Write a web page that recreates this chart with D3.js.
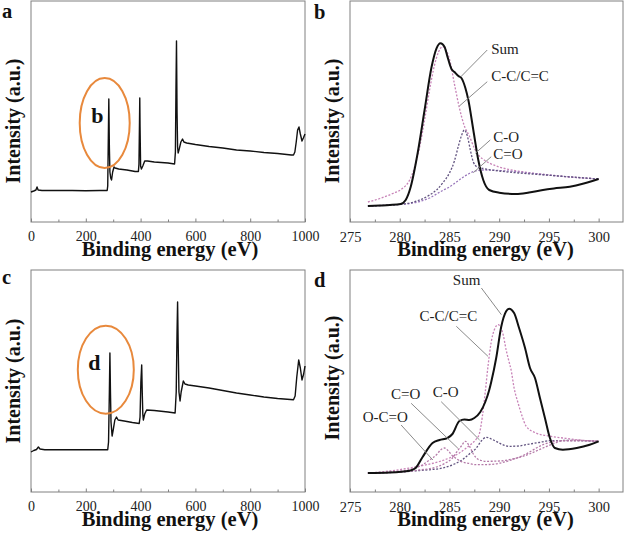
<!DOCTYPE html>
<html><head><meta charset="utf-8">
<script src="https://cdn.jsdelivr.net/npm/d3@7"></script>
<style>body{margin:0;background:#fff} svg{display:block}</style>
</head><body>
<svg id="chart" width="625" height="538"></svg>
<script>
// ---------- DATA ----------
const surveyTicks = [0, 200, 400, 600, 800, 1000];
const surveyMinor = [100, 300, 500, 700, 900];
const hrTicks = [275, 280, 285, 290, 295, 300];
const hrMinor = [277.5, 282.5, 287.5, 292.5, 297.5];

// Panel a: survey spectrum [binding energy eV, intensity a.u.]
const surveyA = [[0,30],[10,31],[18,32],[22,35],[26,32],[40,31.5],[100,31.5],[150,31.5],[200,31.2],[250,31.5],[278,31.5],[280,36],[282,80],[284,123],[286,75],[288,50],[291,44],[294,42],[298,50],[303,55],[307,54],[320,53],[350,52],[380,50.5],[392,50.5],[394,58],[396,100],[397,124],[398,95],[400,56],[403,53],[408,56],[415,61],[425,61],[450,60],[500,59],[524,58],[527,70],[529,130],[531,181],[533,110],[535,75],[537,69],[541,73],[547,80],[553,83],[558,80],[568,79],[600,77.5],[650,75.5],[700,74],[750,72],[800,71],[850,69.5],[900,68.5],[950,67],[958,67],[963,70],[968,80],[973,92],[978,95],[983,88],[989,81],[994,84],[1000,88]];

// Panel c: survey spectrum
const surveyC = [[0,40],[10,41.5],[20,42.5],[27,45],[33,43],[50,42.3],[100,42.3],[200,42.3],[280,42.3],[283,50],[286,100],[288,139],[290,100],[292,70],[296,56],[300,62],[306,72],[312,75],[318,72],[340,71],[370,69.5],[395,68.5],[398,75],[401,110],[404,127],[406,100],[408,78],[410,72],[415,78],[422,82],[450,81.5],[500,80],[526,79],[530,100],[533,160],[535,190],[537,150],[540,100],[544,91],[548,100],[556,111],[562,108],[574,107],[600,106],[650,104],[700,101.5],[750,99],[800,97],[850,95],[900,93.5],[958,92.3],[964,96],[970,115],[977,132],[983,124],[989,112],[995,118],[1000,126]];

// Panel b: C1s high resolution
const sumB = [[276.8,16],[278,16.5],[279,17],[280.1,18],[280.6,22],[281.1,35],[281.8,68.7],[282.5,112],[283.2,155],[283.7,173.7],[284.1,178.7],[284.5,175.3],[284.8,165.3],[285.2,153],[285.5,150],[285.9,146],[286.2,144],[286.6,134],[286.9,122],[287.4,92],[287.9,62],[288.4,42],[289.0,32],[290.0,29.3],[291.7,28],[293,29.5],[294.4,32],[295.5,33.5],[297.1,35.3],[298.5,38.5],[300,43]];
const ccB = [[276.8,20],[278,23.5],[279.3,28.5],[280.2,33],[281.0,42],[281.5,55],[282.0,75],[282.5,102],[283.0,132],[283.5,157],[283.9,170],[284.3,175.3],[284.7,171],[285.0,163],[285.5,138],[286.0,114],[286.5,96],[287.0,86],[287.5,74],[288.0,66],[288.5,62],[289.0,59],[290.0,55],[291.0,52.5],[292.5,50],[294.5,47.5],[296.5,45.5],[298.5,44],[300,43]];
const coB = [[276.8,16],[279,17],[281,19],[282,22],[283,27],[283.7,32],[284.4,40],[285.0,49],[285.5,61],[285.9,76],[286.2,86],[286.5,92],[286.8,86],[287.1,72],[287.4,60],[287.8,55],[288.4,53.5],[290,51],[292,49],[294,47.5],[296,46],[298,44.5],[300,43]];
const cdoB = [[276.8,16],[279,17],[281,18.5],[282,20.5],[283,24],[283.7,28],[284.4,32],[285.0,35],[285.7,40],[286.4,45],[287.0,48.5],[287.6,51],[288.2,52],[289,52],[290,51.5],[291.5,50.5],[293,49],[294.5,47.5],[296.5,45.5],[298.5,44],[300,43]];

// Panel d: C1s high resolution
const sumD = [[276.8,19],[279,19.5],[281.0,21.3],[281.6,24],[282.3,35],[283.3,49],[284.0,52],[284.8,54],[285.3,58],[286.0,71],[286.5,72.5],[287.0,72],[287.5,74],[288.1,80],[288.6,90],[289.0,102],[289.2,110],[289.7,134],[290.2,165],[290.7,180.7],[291.0,183.3],[291.5,179],[292.0,164],[292.6,144],[293.1,124],[293.6,114],[294.1,94],[294.6,74],[295.1,54],[295.6,44],[296.4,42.3],[297.8,44],[299.1,47.3],[300,50.7]];
const ccD = [[276.8,19],[279,21],[281,24],[282.7,27.3],[284,30.5],[285.0,34],[286.0,39],[286.7,44],[287.2,48],[287.7,53],[288.0,58],[288.3,75],[288.6,100],[288.9,128],[289.2,150],[289.5,162],[289.9,167.3],[290.4,157.3],[290.7,142],[291.0,130],[291.2,122],[291.5,104],[291.9,89],[292.3,76],[292.7,66],[293.7,59],[295,56],[296.4,54],[298,52],[300,50.7]];
const coD = [[276.8,19],[280,20],[282,21.5],[284.3,24],[285.5,28],[286.3,32.3],[287.0,38],[287.7,44],[288.2,51],[288.7,54.7],[289.2,53],[289.7,50.7],[290.3,47.5],[291.0,45.7],[292,46],[292.7,47.3],[294,49.5],[295.1,51.3],[297,51.5],[300,50.7]];
const cdoD = [[276.8,19],[280,20],[282,22],[283.7,25],[284.6,29],[285.3,34],[285.8,41],[286.2,46],[286.6,50.7],[287.0,46],[287.4,38],[287.7,34],[288.2,31.5],[288.7,30.7],[290,31],[291.0,32.3],[292.5,36],[294.4,44],[295.5,48.5],[296.4,51.3],[298,51.5],[300,50.7]];
const ocoD = [[276.8,19],[279,20],[281,22.5],[282.3,27.3],[283.0,32],[283.7,37.3],[284.1,42],[284.5,44],[284.9,41],[285.2,37.3],[285.6,34],[286.0,31.3],[287.0,28.5],[287.7,27.3],[289,27.5],[291.0,31.3],[292.5,37],[294.4,47.3],[295.5,50.5],[296.4,51.3],[298,51.5],[300,50.7]];

const panelLetters = ["a", "b", "c", "d"];
const xTitle = "Binding energy (eV)";
const yTitle = "Intensity (a.u.)";

// ---------- DRAWING ----------
const svg = d3.select("#chart");
const FONT = "'Liberation Serif','Times New Roman',Times,serif";
const FRAME = "#808080";
const C_PINK = "#c884b8", C_DARK = "#625480", C_PURPLE = "#9a78bc", C_MAUVE = "#b47aa8";

function makePanel(o) {
  const x = d3.scaleLinear().domain(o.xDomain).range([o.left, o.xEnd]);
  const y = d3.scaleLinear().domain([0, 220]).range([o.bottom, o.bottom - 220]);
  const g = svg.append("g");
  g.append("rect").attr("x", o.left).attr("y", o.top)
    .attr("width", o.right - o.left).attr("height", o.bottom - o.top)
    .attr("fill", "none").attr("stroke", FRAME).attr("stroke-width", 1);
  const ax = g.append("g").attr("transform", `translate(0,${o.bottom})`)
    .call(d3.axisBottom(x).tickValues(o.ticks).tickSize(-3.5).tickPadding(9.5).tickFormat(d3.format("d")));
  ax.select(".domain").remove();
  ax.selectAll("line").attr("stroke", FRAME);
  ax.selectAll("text").attr("font-family", FONT).attr("font-size", o.tickFont).attr("fill", "#222");
  const mx = g.append("g").attr("transform", `translate(0,${o.bottom})`)
    .call(d3.axisBottom(x).tickValues(o.minor).tickSize(-2.5).tickFormat(""));
  mx.select(".domain").remove();
  mx.selectAll("line").attr("stroke", FRAME);
  g.append("text").attr("x", (o.left + o.right) / 2 + o.titleShift).attr("y", o.bottom + 33.5)
    .attr("text-anchor", "middle").attr("font-family", FONT).attr("font-weight", "bold")
    .attr("font-size", 20.5).attr("fill", "#111").text(xTitle);
  g.append("text").attr("transform", `translate(${o.left - 11},${o.yTitleY}) rotate(-90)`)
    .attr("text-anchor", "middle").attr("font-family", FONT).attr("font-weight", "bold")
    .attr("font-size", 20).attr("fill", "#111").text(yTitle);
  g.append("text").attr("x", o.letterX).attr("y", o.letterY)
    .attr("font-family", FONT).attr("font-weight", "bold").attr("font-size", 20.5)
    .attr("fill", "#111").text(o.letter);
  return {x, y, g};
}

const line = (x, y) => d3.line().x(d => x(d[0])).y(d => y(d[1]));

// ---- Panel a ----
{
  const p = makePanel({left:31, right:305, xEnd:305, top:1, bottom:222, xDomain:[0,1000], titleShift:2,
    ticks:surveyTicks, minor:surveyMinor, tickFont:14, yTitleY:121, letterX:2, letterY:18, letter:panelLetters[0]});
  p.g.append("path").datum(surveyA).attr("d", line(p.x, p.y))
    .attr("fill", "none").attr("stroke", "#111").attr("stroke-width", 1.4).attr("stroke-linejoin", "round");
  p.g.append("ellipse").attr("cx", p.x(269)).attr("cy", p.y(99)).attr("rx", 25).attr("ry", 45)
    .attr("fill", "none").attr("stroke", "#e8893c").attr("stroke-width", 2);
  p.g.append("text").attr("x", p.x(220)).attr("y", p.y(99)).attr("font-family", FONT)
    .attr("font-weight", "bold").attr("font-size", 22).attr("fill", "#111").text("b");
}
// ---- Panel c ----
{
  const p = makePanel({left:31, right:305, xEnd:305, top:270, bottom:492, xDomain:[0,1000], titleShift:2,
    ticks:surveyTicks, minor:surveyMinor, tickFont:14, yTitleY:381, letterX:2, letterY:284, letter:panelLetters[2]});
  p.g.append("path").datum(surveyC).attr("d", line(p.x, p.y))
    .attr("fill", "none").attr("stroke", "#111").attr("stroke-width", 1.4).attr("stroke-linejoin", "round");
  p.g.append("ellipse").attr("cx", p.x(273)).attr("cy", p.y(122.3)).attr("rx", 28).attr("ry", 44)
    .attr("fill", "none").attr("stroke", "#e8893c").attr("stroke-width", 2);
  p.g.append("text").attr("x", p.x(209)).attr("y", p.y(122.3)).attr("font-family", FONT)
    .attr("font-weight", "bold").attr("font-size", 22).attr("fill", "#111").text("d");
}

function drawHR(p, comps, sum, notes) {
  comps.forEach(c => {
    p.g.append("path").datum(c.data).attr("d", line(p.x, p.y).curve(d3.curveMonotoneX))
      .attr("fill", "none").attr("stroke", c.color).attr("stroke-width", 1.3)
      .attr("stroke-dasharray", "2,1.6");
  });
  p.g.append("path").datum(sum).attr("d", line(p.x, p.y).curve(d3.curveMonotoneX))
    .attr("fill", "none").attr("stroke", "#111").attr("stroke-width", 2).attr("stroke-linejoin", "round");
  notes.forEach(n => {
    p.g.append("line").attr("x1", p.x(n.l[0])).attr("y1", p.y(n.l[1]))
      .attr("x2", p.x(n.l[2])).attr("y2", p.y(n.l[3])).attr("stroke", "#8a8a8a").attr("stroke-width", 1);
    p.g.append("text").attr("x", p.x(n.t[0])).attr("y", p.y(n.t[1])).attr("font-family", FONT)
      .attr("font-size", 15).attr("fill", "#222").text(n.label);
  });
}

// ---- Panel b ----
{
  const p = makePanel({left:350, right:623, xEnd:623.5, top:1, bottom:222, xDomain:[275,302.5], titleShift:-1,
    ticks:hrTicks, minor:hrMinor, tickFont:14.5, yTitleY:121, letterX:314, letterY:19, letter:panelLetters[1]});
  const L = ["Sum","C-C/C=C","C-O","C=O"];
  drawHR(p, [{data:ccB,color:C_PINK},{data:cdoB,color:C_PURPLE},{data:coB,color:C_DARK}], sumB, [
    {label:L[0], t:[289.2,168], l:[288.8,172,286.15,145.3]},
    {label:L[1], t:[289.2,141.3], l:[288.8,140.3,286.0,116]},
    {label:L[2], t:[289.4,80], l:[289.1,82,287.6,68.7]},
    {label:L[3], t:[289.4,63], l:[289.2,65.3,287.4,49.3]}
  ]);
}
// ---- Panel d ----
{
  const p = makePanel({left:350, right:623, xEnd:623.5, top:270, bottom:492, xDomain:[275,302.5], titleShift:-1,
    ticks:hrTicks, minor:hrMinor, tickFont:14.5, yTitleY:378, letterX:314, letterY:287, letter:panelLetters[3]});
  const L = ["Sum","C-C/C=C","C=O","C-O","O-C=O"];
  drawHR(p, [{data:ccD,color:C_PINK},{data:coD,color:C_DARK},{data:cdoD,color:C_MAUVE},{data:ocoD,color:C_MAUVE}], sumD, [
    {label:L[0], t:[285.34,207.3], l:[288.21,204,290.22,177.3]},
    {label:L[1], t:[281.99,170.7], l:[285.69,165.7,288.87,135.7]},
    {label:L[2], t:[279.13,93.3], l:[281.15,88.7,285.85,43.7]},
    {label:L[3], t:[283.33,94.7], l:[284.17,90.3,288.03,52]},
    {label:L[4], t:[276.27,70], l:[280.14,67,283.33,32]}
  ]);
}
</script>
</body></html>
